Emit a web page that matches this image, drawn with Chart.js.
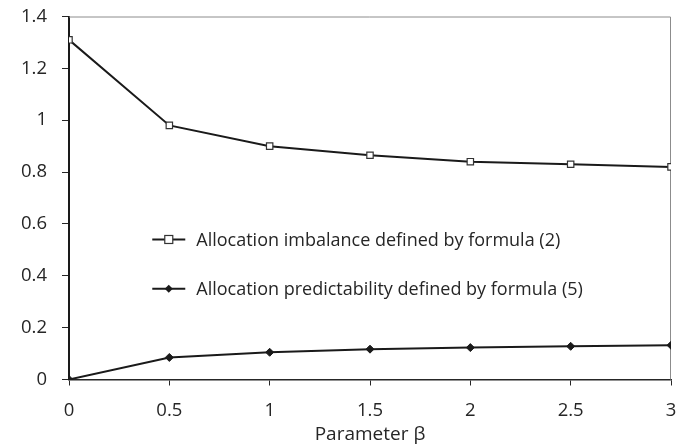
<!DOCTYPE html>
<html>
<head>
<meta charset="utf-8">
<script src="https://cdn.jsdelivr.net/npm/chart.js@4.4.1/dist/chart.umd.min.js"></script>
<style>
  html, body { margin:0; padding:0; background:#fff; }
  #wrap { width:691px; height:446px; position:relative; }
</style>
</head>
<body>
<div id="wrap"><canvas id="grafica"></canvas></div>
<script>
// datos
const betas = [0, 0.5, 1, 1.5, 2, 2.5, 3];
const desequilibrio = [1.31, 0.98, 0.90, 0.865, 0.84, 0.83, 0.82];
const predictibilidad = [0, 0.085, 0.105, 0.117, 0.123, 0.128, 0.132];
const xTicks = [0, 0.5, 1, 1.5, 2, 2.5, 3];
const yTicks = [0, 0.2, 0.4, 0.6, 0.8, 1, 1.2, 1.4];
const nombres = ['Allocation imbalance defined by formula (2)', 'Allocation predictability defined by formula (5)'];
const tituloX = 'Parameter \u03B2';

const FUENTE = '"Open Sans", sans-serif';

// marco gris arriba/derecha + leyenda dentro del área
const marco = {
  id:'marco',
  beforeDatasetsDraw(chart){
    const {ctx, chartArea:a} = chart;
    ctx.save();
    ctx.strokeStyle = '#8c8c8c';
    ctx.lineWidth = 1;
    ctx.beginPath();
    ctx.moveTo(a.left, a.top + .5); ctx.lineTo(a.right - .5, a.top + .5); ctx.lineTo(a.right - .5, a.bottom);
    ctx.stroke();
    ctx.restore();
  },
  afterDraw(chart){
    const {ctx} = chart;
    const sx = chart.scales.x, sy = chart.scales.y;
    const x0 = sx.getPixelForValue(0.415);
    const filas = [sy.getPixelForValue(0.54), sy.getPixelForValue(0.35)];
    ctx.save();
    chart.data.datasets.forEach((ds, i) => {
      const y = filas[i];
      ctx.strokeStyle = '#1a1a1a';
      ctx.lineWidth = 2;
      ctx.beginPath(); ctx.moveTo(x0, y); ctx.lineTo(x0 + 33, y); ctx.stroke();
      const cx = x0 + 16.5;
      if(i === 0){
        ctx.fillStyle = '#fff'; ctx.lineWidth = 1.2; ctx.strokeStyle = '#333';
        ctx.fillRect(cx - 4, y - 4, 8, 8); ctx.strokeRect(cx - 4, y - 4, 8, 8);
      } else {
        ctx.fillStyle = '#1a1a1a';
        ctx.beginPath(); ctx.moveTo(cx, y - 4); ctx.lineTo(cx + 4, y); ctx.lineTo(cx, y + 4); ctx.lineTo(cx - 4, y); ctx.closePath(); ctx.fill();
      }
      ctx.fillStyle = '#262626';
      ctx.font = '18px ' + FUENTE;
      ctx.textBaseline = 'middle';
      ctx.fillText(ds.label, x0 + 44, y + 1);
    });
    ctx.restore();
  }
};

new Chart(document.getElementById('grafica').getContext('2d'), {
  type:'line',
  data:{
    datasets:[
      { label:nombres[0], data: betas.map((b,i) => ({x:b, y:desequilibrio[i]})),
        borderColor:'#1a1a1a', borderWidth:2, pointStyle:'rect', pointRadius:4.5,
        pointBackgroundColor:'#fff', pointBorderColor:'#333', pointBorderWidth:1.2, tension:0 },
      { label:nombres[1], data: betas.map((b,i) => ({x:b, y:predictibilidad[i]})),
        borderColor:'#1a1a1a', borderWidth:2, pointStyle:'rectRot', pointRadius:4,
        pointBackgroundColor:'#1a1a1a', pointBorderColor:'#1a1a1a', pointBorderWidth:1, tension:0 }
    ]
  },
  options:{
    responsive:true, maintainAspectRatio:false, animation:false,
    layout:{ padding:{ left:0, right:20, top:16.5, bottom:0 } },
    plugins:{ legend:{ display:false }, tooltip:{ enabled:false } },
    scales:{
      x:{
        type:'linear', min:0, max:3,
        afterBuildTicks: s => { s.ticks = xTicks.map(v => ({value:v})); },
        afterFit: s => { s.height = 66.5; s.paddingLeft = 0; s.paddingRight = 0; },
        ticks:{ color:'#262626', font:{ family:FUENTE, size:18.5 }, padding:14, maxRotation:0, callback: v => String(v) },
        grid:{ drawOnChartArea:false, drawTicks:true, tickLength:6, color:'#262626' },
        border:{ color:'#262626', width:1.5 },
        title:{ display:true, text:tituloX, color:'#262626', font:{ family:FUENTE, size:19 }, padding:{ top:0, bottom:0 } }
      },
      y:{
        type:'linear', min:0, max:1.4,
        afterBuildTicks: s => { s.ticks = yTicks.map(v => ({value:v})); },
        afterFit: s => { s.width = 69; s.paddingTop = 0; s.paddingBottom = 0; },
        ticks:{ color:'#262626', font:{ family:FUENTE, size:18.5 }, padding:15, callback: v => String(v) },
        grid:{ drawOnChartArea:false, drawTicks:true, tickLength:7, color:'#262626' },
        border:{ color:'#1a1a1a', width:2 }
      }
    }
  },
  plugins:[marco]
});
</script>
</body>
</html>
